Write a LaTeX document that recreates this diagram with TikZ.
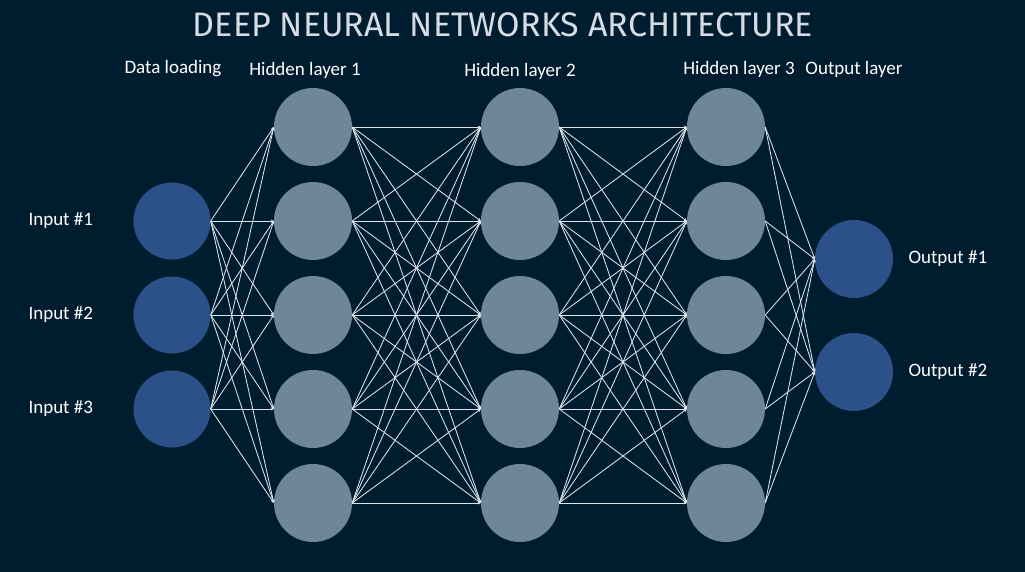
\documentclass[tikz,border=0pt]{standalone}
\usepackage{fontspec}
\setmainfont{Carlito}
\newfontfamily\titlefont{Fira Sans}
\usetikzlibrary{arrows.meta}
\definecolor{bg}{HTML}{001D2F}
\definecolor{inblue}{HTML}{2C5088}
\definecolor{hidgrey}{HTML}{6E8698}
\definecolor{edgecol}{HTML}{DCE3EA}
\definecolor{titlecol}{HTML}{D5DCE4}
\begin{document}
\begin{tikzpicture}[x=1pt,y=-1pt,
  neuronin/.style={circle,fill=inblue,minimum size=77pt,inner sep=0pt},
  neuronhid/.style={circle,fill=hidgrey,minimum size=78pt,inner sep=0pt},
  conn/.style={draw=edgecol,line width=0.85pt,-{Stealth[length=3pt,width=3pt]}},
  lbl/.style={text=white,font=\fontsize{19}{22}\selectfont}
]
\fill[bg] (0,0) rectangle (1025,572);
\useasboundingbox (0,0) rectangle (1025,572);
\node[text=titlecol] (title) at (503,25) {\resizebox{620pt}{!}{\titlefont\fontsize{30}{36}\selectfont DEEP NEURAL NETWORKS ARCHITECTURE}};
\node[lbl] (ldata) at (173,69) {Data loading};
\node[lbl] (lh1) at (305,70) {Hidden layer 1};
\node[lbl] (lh2) at (520,71) {Hidden layer 2};
\node[lbl] (lh3) at (739,69) {Hidden layer 3};
\node[lbl] (lout) at (854,69) {Output layer};
% input
\foreach \i/\y in {1/221,2/315,3/409}{
  \node[neuronin] (in\i) at (172,\y) {};
  \node[lbl,anchor=west] (inl\i) at (25,\y) {Input \#\i};
}
\foreach \i/\y in {1/127,2/221,3/315,4/409,5/503}{
  \node[neuronhid] (a\i) at (313,\y) {};
  \node[neuronhid] (b\i) at (520,\y) {};
  \node[neuronhid] (c\i) at (726,\y) {};
}
\foreach \i/\y in {1/259,2/372}{
  \node[neuronin,minimum size=78pt] (o\i) at (854,\y) {};
  \node[lbl,anchor=west] (ol\i) at (905,\y) {Output \#\i};
}
\foreach \i in {1,2,3}{\foreach \j in {1,...,5}{\draw[conn] (in\i.east) -- (a\j.west);}}
\foreach \i in {1,...,5}{\foreach \j in {1,...,5}{\draw[conn] (a\i.east) -- (b\j.west);}}
\foreach \i in {1,...,5}{\foreach \j in {1,...,5}{\draw[conn] (b\i.east) -- (c\j.west);}}
\foreach \i in {1,...,5}{\foreach \j in {1,2}{\draw[conn] (c\i.east) -- (o\j.west);}}
\end{tikzpicture}
\end{document}
